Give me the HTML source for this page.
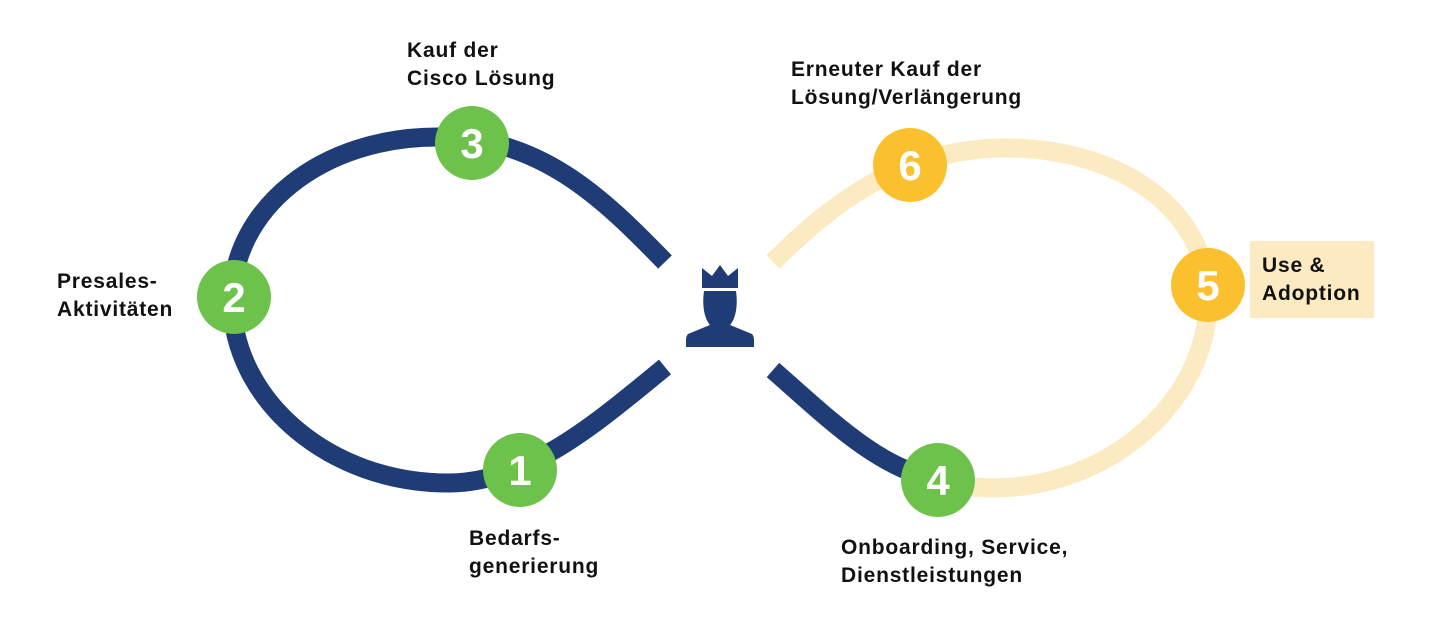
<!DOCTYPE html>
<html><head><meta charset="utf-8"><style>
html,body{margin:0;padding:0;background:#fff;width:1440px;height:625px;overflow:hidden}
.t{position:absolute;font-family:"Liberation Sans",sans-serif;font-size:21px;line-height:28px;color:#111;font-weight:bold;letter-spacing:0.8px}
</style></head><body>
<svg width="1440" height="625" style="position:absolute;left:0;top:0">
<path d="M665,262 C600,195 540,138 440,137 C320,136 232,210 232,300 C232,400 330,484 450,483 C530,482 600,420 665,367" fill="none" stroke="#1f3c77" stroke-width="19"/>
<path d="M773,262 C830,205 900,150 1000,148 C1120,146 1208,210 1208,300 C1208,400 1110,489 990,488 L955,486" fill="none" stroke="#fcebc2" stroke-width="19"/>
<path d="M773,370 C830,420 880,470 940,480" fill="none" stroke="#1f3c77" stroke-width="19"/>
<rect x="1250" y="241" width="124" height="77" fill="#fcebc2"/>
<g fill="#1f3c77">
<polygon points="702,288 702,268 712,276 720,265 728,276 738,268 738,288"/>
<path d="M704,291 H736 C738,305 736,318 730,325 L752,334 Q754,336 754,340 V347 H686 V340 Q686,336 688,334 L710,325 C704,318 702,305 704,291 Z"/>
</g>
<g font-family="Liberation Sans,sans-serif" font-weight="bold" font-size="42" fill="#fff" text-anchor="middle">
<circle cx="472" cy="143" r="37" fill="#6cc24a"/><text x="472" y="158">3</text>
<circle cx="234" cy="297" r="37" fill="#6cc24a"/><text x="234" y="312">2</text>
<circle cx="520" cy="470" r="37" fill="#6cc24a"/><text x="520" y="485">1</text>
<circle cx="938" cy="480" r="37" fill="#6cc24a"/><text x="938" y="495">4</text>
<circle cx="1208" cy="285" r="37" fill="#fbc02d"/><text x="1208" y="300">5</text>
<circle cx="910" cy="165" r="37" fill="#fbc02d"/><text x="910" y="180">6</text>
</g>
</svg>
<div class="t" style="left:407px;top:37px">Kauf der<br>Cisco Lösung</div>
<div class="t" style="left:57px;top:268px">Presales-<br>Aktivitäten</div>
<div class="t" style="left:469px;top:525px">Bedarfs-<br>generierung</div>
<div class="t" style="left:841px;top:534px">Onboarding, Service,<br>Dienstleistungen</div>
<div class="t" style="left:1262px;top:252px">Use &amp;<br>Adoption</div>
<div class="t" style="left:791px;top:56px">Erneuter Kauf der<br>Lösung/Verlängerung</div>
</body></html>
